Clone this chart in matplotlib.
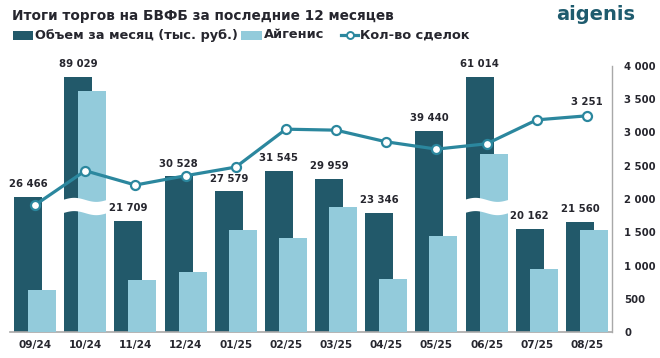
import numpy as np
import matplotlib
matplotlib.use("Agg")
import matplotlib.pyplot as plt
from matplotlib.patches import Rectangle, Polygon
from matplotlib.lines import Line2D

months = ["09/24", "10/24", "11/24", "12/24", "01/25", "02/25",
          "03/25", "04/25", "05/25", "06/25", "07/25", "08/25"]
volume = [26466, 89029, 21709, 30528, 27579, 31545, 29959, 23346, 39440, 61014, 20162, 21560]
aigenis = [8200, 84000, 10200, 11800, 20000, 18400, 24500, 10400, 18800, 42600, 12400, 20000]
deals = [1910, 2425, 2210, 2350, 2480, 3050, 3035, 2860, 2750, 2830, 3190, 3251]
right_ticks = [0, 500, 1000, 1500, 2000, 2500, 3000, 3500, 4000]

DARK = "#22596A"
LIGHT = "#93CBDB"
LINE = "#2B879E"
TXT = "#26262E"
FONT = "DejaVu Sans"

plt.rcParams['font.family'] = [FONT]

CAP = 50000          # displayed height of broken bars
BREAK_LO, BREAK_HI = 23300, 25900

def fmt(v):
    return f"{v:,}".replace(",", " ")

fig = plt.figure(figsize=(6.6, 3.58), dpi=100)
ax = fig.add_axes([10/660, 1-332/358, 602/660, 266/358])
ax2 = ax.twinx()

x = np.arange(len(months))
w = 0.56
off = 0.14
disp_vol = []
disp_aig = []
broken = []
for v, a in zip(volume, aigenis):
    if v > CAP:
        disp_vol.append(CAP)
        disp_aig.append(a * CAP / v)
        broken.append(True)
    else:
        disp_vol.append(v)
        disp_aig.append(a)
        broken.append(False)

ax.bar(x - off, disp_vol, width=w, color=DARK, zorder=2)
ax.bar(x + off, disp_aig, width=w, color=LIGHT, zorder=3)

# break marks
for i, b in enumerate(broken):
    if not b:
        continue
    xs = np.linspace(i - off - w/2 - 0.02, i + off + w/2 + 0.02, 40)
    t = (xs - xs[0]) / (xs[-1] - xs[0])
    wave = 400 * np.sin(2 * np.pi * t)
    top = BREAK_HI + wave
    bot = BREAK_LO + wave
    pts = np.vstack([np.column_stack([xs, top]), np.column_stack([xs[::-1], bot[::-1]])])
    ax.add_patch(Polygon(pts, closed=True, facecolor="white", edgecolor="none", zorder=4))

for i, v in enumerate(volume):
    ax.text(x[i] - off, disp_vol[i] + 2500, fmt(v), ha="center", va="center",
            fontsize=7.3, fontweight="bold", color=TXT, zorder=6)

ax.set_xlim(-0.5, 11.5)
ax.set_ylim(0, 52140)
ax.set_yticks([])
for s in ["top", "left", "right"]:
    ax.spines[s].set_visible(False)
ax.spines["bottom"].set_color("#A8A8A8")
ax.spines["bottom"].set_linewidth(1.2)
ax.set_xticks(x)
ax.set_xticklabels(months, fontsize=7.6, fontweight="bold", color=TXT)
ax.tick_params(axis="x", length=0, pad=6)

ax2.plot(x, deals, color=LINE, lw=2.3, marker="o", ms=6.5, mfc="white",
         mec=LINE, mew=1.6, zorder=5)
ax2.text(x[-1], deals[-1] + 210, fmt(deals[-1]), ha="center", va="center",
         fontsize=7.3, fontweight="bold", color=TXT)
ax2.set_ylim(0, 4000)
ax2.set_yticks(right_ticks)
ax2.set_yticklabels([fmt(t) for t in right_ticks], fontsize=7.3, fontweight="bold", color=TXT)
ax2.tick_params(axis="y", length=0, pad=9)
for s in ["top", "left", "bottom"]:
    ax2.spines[s].set_visible(False)
ax2.spines["right"].set_color("#A8A8A8")
ax2.spines["right"].set_linewidth(1.0)

# title and logo
fig.text(12/660, 1-16/358, "Итоги торгов на БВФБ за последние 12 месяцев",
         fontsize=9.85, fontweight="bold", color=TXT, ha="left", va="center")
fig.text(596/660, 1-14/358, "aigenis", fontsize=14, fontweight="bold",
         color="#1E5B6E", ha="center", va="center")

# legend
ly = 1 - 35/358
ph = 9/358
fig.add_artist(Rectangle((13/660, ly - ph/2), 20/660, ph, transform=fig.transFigure,
                         facecolor=DARK, edgecolor="none"))
fig.text(35/660, ly, "Объем за месяц (тыс. руб.)", fontsize=9.3, fontweight="bold",
         color=TXT, ha="left", va="center")
fig.add_artist(Rectangle((241/660, ly - ph/2), 21/660, ph, transform=fig.transFigure,
                         facecolor=LIGHT, edgecolor="none"))
fig.text(264/660, ly, "Айгенис", fontsize=9.3, fontweight="bold",
         color=TXT, ha="left", va="center")
fig.add_artist(Line2D([341/660, 358/660], [ly, ly], transform=fig.transFigure,
                      color=LINE, lw=2.3, marker=None))
fig.add_artist(Line2D([349.5/660], [ly], transform=fig.transFigure, color=LINE,
                      marker="o", ms=5, mfc="white", mec=LINE, mew=1.4, lw=0))
fig.text(360/660, ly, "Кол-во сделок", fontsize=9.3, fontweight="bold",
         color=TXT, ha="left", va="center")

fig.savefig("out.png", dpi=100)
